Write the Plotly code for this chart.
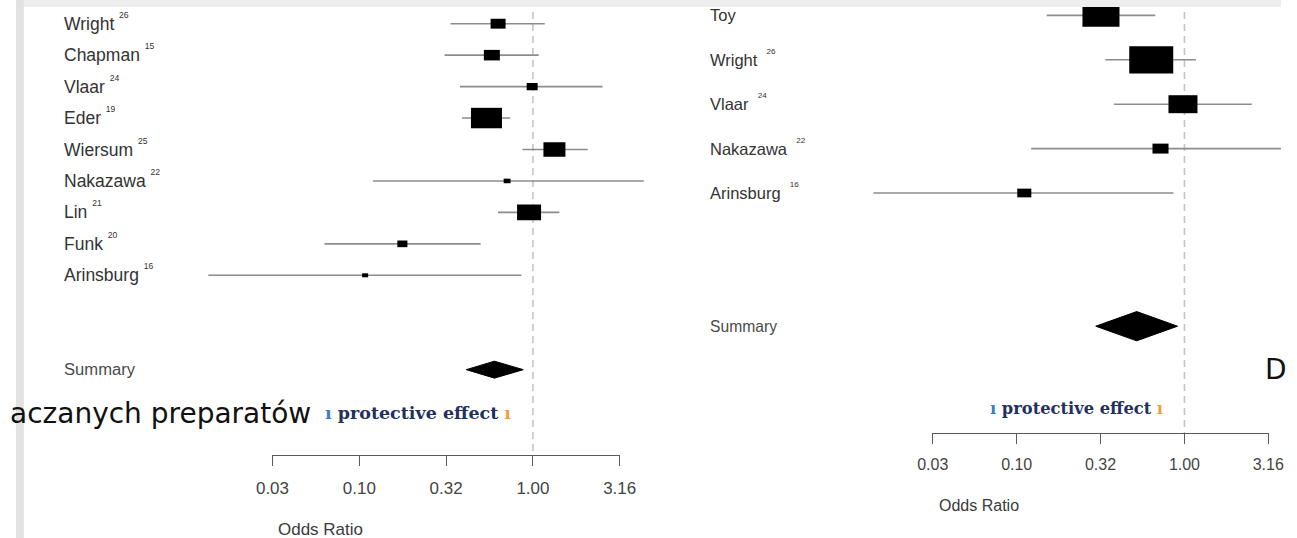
import numpy as np
import plotly.graph_objects as go

# ---------------- data ----------------
left_studies = ["Wright", "Chapman", "Vlaar", "Eder", "Wiersum", "Nakazawa", "Lin", "Funk", "Arinsburg"]
left_refs = ["26", "15", "24", "19", "25", "22", "21", "20", "16"]
left_or = [0.63, 0.58, 0.99, 0.54, 1.33, 0.71, 0.95, 0.177, 0.108]
left_lo = [0.335, 0.31, 0.38, 0.39, 0.87, 0.12, 0.63, 0.063, 0.0135]
left_hi = [1.17, 1.08, 2.52, 0.74, 2.07, 4.35, 1.42, 0.50, 0.86]
left_weight = [8.0, 9.1, 4.3, 34.2, 17.2, 1.7, 20.5, 3.6, 1.3]
left_summary = {"or": 0.60, "lo": 0.413, "hi": 0.88}

right_studies = ["Toy", "Wright", "Vlaar", "Nakazawa", "Arinsburg"]
right_refs = ["", "26", "24", "22", "16"]
right_or = [0.318, 0.634, 0.98, 0.72, 0.111]
right_lo = [0.151, 0.338, 0.38, 0.122, 0.014]
right_hi = [0.67, 1.17, 2.52, 4.35, 0.86]
right_weight = [29.8, 42.1, 18.3, 5.6, 4.3]
right_summary = {"or": 0.519, "lo": 0.296, "hi": 0.91}

tick_values = [0.0316, 0.10, 0.316, 1.00, 3.16]
tick_labels = [f"{v:.2f}" for v in tick_values]

# ---------------- layout geometry ----------------
W, H = 1297, 538
LBL = "Liberation Sans, Arial, sans-serif"

panels = [
    dict(xa="x", ya="y", tx="x3",
         x_null_px=530, decade_px=178, dom=(0, 660), row0_px=23.7, row_px=31.45,
         axis_px=455, label_px=47, font=17.5, sum_gap=3, box_k=5.3, box_ratio=0.66,
         diamond_h=0.27, studies=left_studies, refs=left_refs, orr=left_or, lo=left_lo,
         hi=left_hi, wt=left_weight, summ=left_summary, sup_sp=" ",
         prot_px=(412, 413), prot_size=17.5, odds_px=529),
    dict(xa="x2", ya="y2", tx="x4",
         x_null_px=1198, decade_px=172, dom=(680, W), row0_px=15.4, row_px=44.4,
         axis_px=433, label_px=710, font=16.5, sum_gap=3, box_k=6.78, box_ratio=0.62,
         diamond_h=0.33, studies=right_studies, refs=right_refs, orr=right_or, lo=right_lo,
         hi=right_hi, wt=right_weight, summ=right_summary, sup_sp="&nbsp; ",
         prot_px=(1087, 408), prot_size=16.3, odds_px=505),
]

fig = go.Figure()
shapes = []
annotations = []
layout_axes = {}

for idx, p in enumerate(panels):
    xa, ya = p["xa"], p["ya"]
    n = len(p["studies"])
    rows = list(range(n))
    sum_row = n - 1 + p["sum_gap"]
    d0, d1 = p["dom"]
    xr = [(d0 - p["x_null_px"]) / p["decade_px"], (d1 - p["x_null_px"]) / p["decade_px"]]
    yr = [(H - p["row0_px"]) / p["row_px"], -p["row0_px"] / p["row_px"]]
    axis_row = (p["axis_px"] - p["row0_px"]) / p["row_px"]

    sfx = "" if idx == 0 else "2"
    layout_axes["xaxis" + sfx] = dict(domain=[d0 / W, d1 / W], range=xr, visible=False,
                                      anchor="y" + sfx, fixedrange=True)
    layout_axes["yaxis" + sfx] = dict(domain=[0, 1], range=yr, visible=False,
                                      anchor="x" + sfx, fixedrange=True)

    # null line (OR = 1)
    fig.add_trace(go.Scatter(x=[np.log10(1.0)] * 2, y=[yr[1], axis_row], mode="lines",
                             line=dict(color="#c4c4c4", width=1.6, dash="7px,5px"),
                             xaxis=xa, yaxis=ya, hoverinfo="skip", showlegend=False))

    # CI lines
    cx, cy = [], []
    for r, lo, hi in zip(rows, p["lo"], p["hi"]):
        cx += [np.log10(lo), np.log10(hi), None]
        cy += [r, r, None]
    fig.add_trace(go.Scatter(x=cx, y=cy, mode="lines", line=dict(color="#8c8c8c", width=1.6),
                             xaxis=xa, yaxis=ya, hoverinfo="skip", showlegend=False))

    # boxes (size from weight)
    for r, o, w in zip(rows, p["orr"], p["wt"]):
        bw = p["box_k"] * np.sqrt(w)
        bh = bw * p["box_ratio"]
        shapes.append(dict(type="rect", xref=xa, yref=ya, xsizemode="pixel", ysizemode="pixel",
                           xanchor=np.log10(o), yanchor=r, x0=-bw / 2, x1=bw / 2,
                           y0=-bh / 2, y1=bh / 2, fillcolor="black", line=dict(width=0)))

    # summary diamond
    s = p["summ"]
    dh = p["diamond_h"]
    fig.add_trace(go.Scatter(
        x=[np.log10(s["lo"]), np.log10(s["or"]), np.log10(s["hi"]), np.log10(s["or"]), np.log10(s["lo"])],
        y=[sum_row, sum_row - dh, sum_row, sum_row + dh, sum_row],
        mode="lines", fill="toself", fillcolor="black", line=dict(color="black", width=1),
        xaxis=xa, yaxis=ya, hoverinfo="skip", showlegend=False))

    # study labels with reference superscripts
    for r, nm, rf in zip(rows, p["studies"], p["refs"]):
        txt = nm if not rf else f"{nm}{p['sup_sp']}<sup><sup>{rf}</sup></sup>"
        annotations.append(dict(text=txt, xref="paper", x=p["label_px"] / W, yref=ya, y=r,
                                yshift=2 if rf else 0,
                                xanchor="left", yanchor="middle", showarrow=False,
                                font=dict(family=LBL, size=p["font"], color="#333333")))
    annotations.append(dict(text="Summary", xref="paper", x=p["label_px"] / W, yref=ya, y=sum_row,
                            xanchor="left", yanchor="middle", showarrow=False,
                            font=dict(family=LBL, size=p["font"] * 0.95, color="#4a4a4a")))

    # odds-ratio axis (drawn only between first and last tick)
    tx = p["tx"]
    lv = [np.log10(v) for v in tick_values]
    t0 = p["x_null_px"] + p["decade_px"] * lv[0]
    t1 = p["x_null_px"] + p["decade_px"] * lv[-1]
    pad = 0.002
    layout_axes["xaxis" + tx[1:]] = dict(
        domain=[(t0 - pad * p["decade_px"]) / W, (t1 + pad * p["decade_px"]) / W],
        range=[lv[0] - pad, lv[-1] + pad], anchor="free", position=1 - p["axis_px"] / H,
        showline=True, linecolor="#5a5a5a", linewidth=1.4, ticks="outside", ticklen=10,
        tickwidth=1.4, tickcolor="#5a5a5a", tickvals=lv, ticktext=tick_labels,
        tickfont=dict(family=LBL, size=p["font"] * 0.97, color="#444444"),
        showgrid=False, zeroline=False, ticklabelstandoff=7, fixedrange=True)
    fig.add_trace(go.Scatter(x=[lv[0], lv[-1]], y=[None, None], xaxis=tx, yaxis=ya,
                             mode="markers", hoverinfo="skip", showlegend=False))

    annotations.append(dict(text="Odds Ratio", xref=tx, x=lv[0], xshift=4, xanchor="left",
                            yref="paper", y=1 - p["odds_px"] / H, yanchor="middle", showarrow=False,
                            font=dict(family=LBL, size=p["font"] * 0.97, color="#3a3a3a")))

    # "protective effect" banner
    px_, py_ = p["prot_px"]
    annotations.append(dict(
        text='<span style="color:#3d7cc9">ı</span> protective effect <span style="color:#f0a040">ı</span>',
        xref="paper", x=px_ / W, yref="paper", y=1 - py_ / H, xanchor="center", yanchor="middle",
        showarrow=False, font=dict(family="DejaVu Serif", size=p["prot_size"], color="#23305e",
                                   weight="bold")))

# slide text fragments
annotations.append(dict(text="aczanych preparatów", xref="paper", x=305 / W, xanchor="right",
                        yref="paper", y=1 - 413 / H, yanchor="middle", showarrow=False,
                        font=dict(family="DejaVu Sans, sans-serif", size=28, color="#111111")))
annotations.append(dict(text="D", xref="paper", x=1279 / W, xanchor="left",
                        yref="paper", y=1 - 369 / H, yanchor="middle", showarrow=False,
                        font=dict(family="DejaVu Sans, sans-serif", size=28, color="#111111")))

# slide background strips
shapes.append(dict(type="rect", xref="paper", yref="paper", x0=0, x1=1, y0=1 - 7 / H, y1=1,
                   fillcolor="#eeeeee", line=dict(width=0), layer="above"))
shapes.append(dict(type="rect", xref="paper", yref="paper", x0=0, x1=8 / W, y0=0, y1=1,
                   fillcolor="#e2e2e2", line=dict(width=0), layer="above"))

fig.update_layout(
    width=W, height=H, autosize=False,
    margin=dict(l=0, r=0, t=0, b=0, pad=0),
    paper_bgcolor="white", plot_bgcolor="rgba(0,0,0,0)",
    shapes=shapes, annotations=annotations, showlegend=False,
    **layout_axes,
)

fig.write_html("out.html", config={"displayModeBar": False},
               post_script="document.body.style.margin='0';document.body.style.overflow='hidden';")
